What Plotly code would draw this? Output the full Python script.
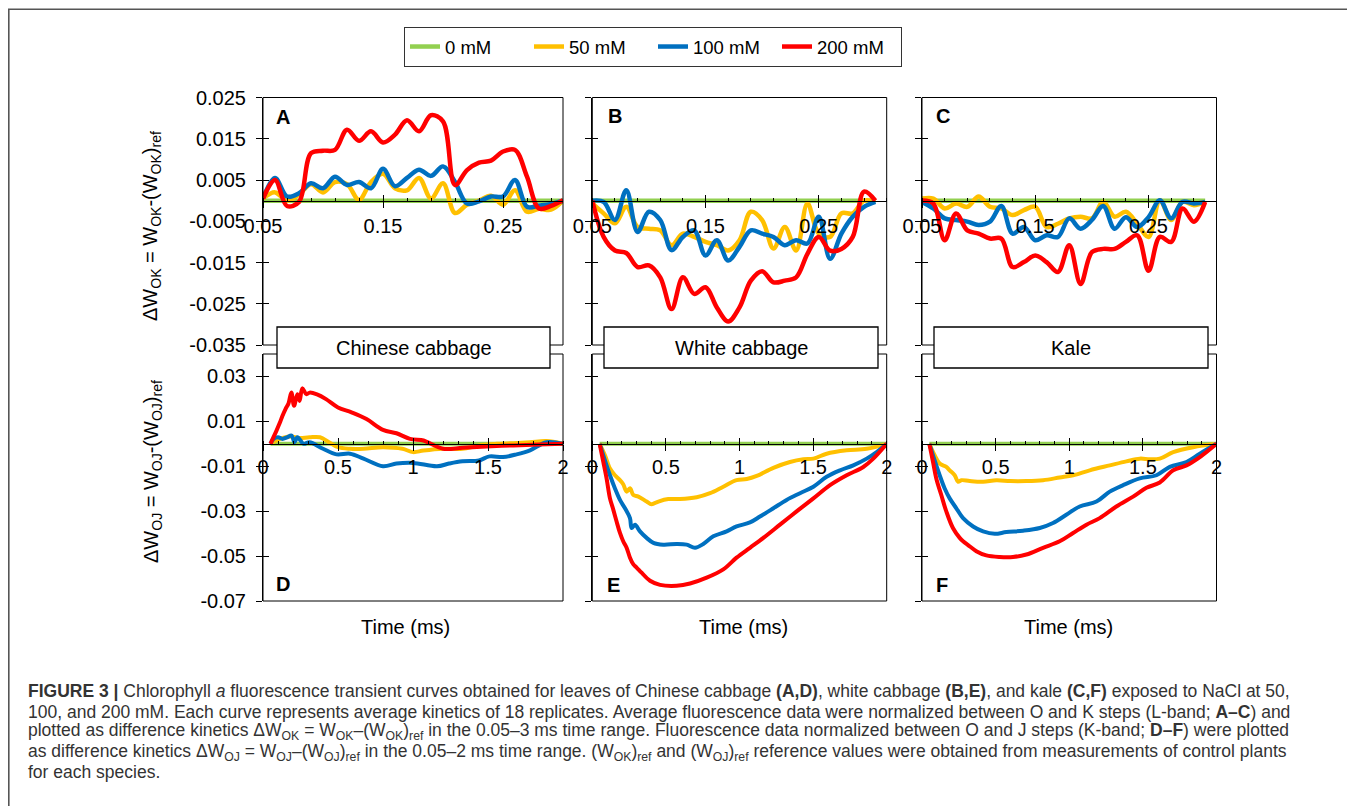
import plotly.graph_objects as go

# the page body keeps an 8 px margin, so the figure is drawn 8 px smaller and offset
OX, OY = 8, 8
W, H = 1355 - OX, 806 - OY

# ---------------- data ----------------
CONC = ["0 mM", "50 mM", "100 mM", "200 mM"]
COLORS = ["#92D050", "#FFC000", "#0070C0", "#FF0000"]

# L-band time grid (ms)
T_L = [0.05, 0.06, 0.07, 0.08, 0.09, 0.10, 0.11, 0.12, 0.13, 0.14, 0.15, 0.16, 0.17,
       0.18, 0.19, 0.20, 0.21, 0.22, 0.23, 0.24, 0.25, 0.26, 0.27, 0.28, 0.29, 0.30]
T_L0 = [0.05, 0.30]
Z_L0 = [0.0, 0.0]

# Panel A - Chinese cabbage, dW_OK
A_50 = [0.0005, 0.002, 0.0, 0.0015, 0.004, 0.002, 0.0045, 0.004, 0.0002, 0.0045, 0.0065, 0.003, 0.0025,
        0.0055, 0.0005, 0.0042, -0.003, -0.001, 0.0, 0.0012, -0.001, 0.0025, -0.0027, -0.002, -0.0022, 0.0]
A_100 = [0.0005, 0.0055, 0.001, 0.0018, 0.0042, 0.003, 0.0058, 0.0038, 0.0045, 0.003, 0.0077, 0.0035, 0.0055,
         0.0075, 0.006, 0.0083, 0.0045, -0.0007, -0.0002, 0.001, 0.001, 0.005, -0.0015, -0.0012, -0.0008, 0.0]
A_200 = [0.0005, 0.005, -0.0013, -0.0003, 0.0115, 0.0121, 0.0123, 0.0172, 0.0145, 0.0168, 0.0141, 0.016, 0.0195,
         0.0168, 0.0207, 0.0192, 0.0038, 0.0074, 0.0092, 0.0097, 0.0119, 0.0123, 0.0058, -0.0019, -0.0013, 0.0001]

# Panel B - White cabbage, dW_OK
B_50 = [-0.0007, -0.0031, -0.0055, -0.0015, -0.0064, -0.0068, -0.0072, -0.0108, -0.008, -0.0088, -0.01, -0.0108, -0.0121,
        -0.0096, -0.0027, -0.0047, -0.0116, -0.0064, -0.0121, -0.0007, -0.008, -0.0088, -0.0031, -0.0031, 0.0, -0.0003]
B_100 = [0.0, -0.0003, -0.0047, 0.0025, -0.0076, -0.0027, -0.0047, -0.012, -0.0088, -0.0072, -0.0133, -0.0096, -0.0145,
         -0.0112, -0.0072, -0.008, -0.0088, -0.0108, -0.0096, -0.0104, -0.0039, -0.0141, -0.008, -0.0039, -0.0015, -0.0003]
B_200 = [0.0, -0.0088, -0.0121, -0.0127, -0.0161, -0.0157, -0.0186, -0.0263, -0.0186, -0.0226, -0.021, -0.0259, -0.0293,
         -0.0259, -0.0194, -0.0171, -0.0198, -0.0194, -0.0186, -0.0129, -0.0088, -0.0121, -0.0117, -0.0088, 0.0022, 0.0]

# Panel C - Kale, dW_OK
C_50 = [0.0005, 0.0005, -0.0019, -0.0007, -0.0015, 0.001, -0.0015, -0.0019, -0.0035, -0.0023, -0.0015, -0.0064, -0.0056,
        -0.0043, -0.0039, -0.0043, -0.0003, -0.0039, -0.0027, -0.0056, -0.0088, 0.0001, -0.0047, -0.0003, -0.0011, -0.0003]
C_100 = [-0.0003, -0.0019, -0.0043, -0.0047, -0.0051, -0.0059, -0.0051, -0.0013, -0.008, -0.0064, -0.0096, -0.0084, -0.0088,
         -0.0043, -0.0068, -0.0047, -0.0013, -0.0068, -0.004, -0.0064, -0.004, 0.0001, -0.0043, -0.0003, -0.0007, -0.0003]
C_200 = [0.0, -0.0007, -0.0096, -0.0031, -0.0072, -0.008, -0.0092, -0.0092, -0.0161, -0.0149, -0.0133, -0.0149, -0.0173,
         -0.0108, -0.0202, -0.0125, -0.0117, -0.0117, -0.01, -0.0084, -0.017, -0.0088, -0.01, -0.0019, -0.0051, -0.0003]

# K-band (dW_OJ), 0.05-2 ms
T_K0 = [0.05, 2.0]
Z_K0 = [0.0, 0.0]

# Panel D - Chinese cabbage
D_50_T = [0.05, 0.09, 0.13, 0.2, 0.24, 0.31, 0.38, 0.44, 0.5, 0.58, 0.67, 0.8, 0.93, 1.0, 1.07, 1.2,
          1.33, 1.44, 1.56, 1.67, 1.78, 1.89, 2.0]
D_50 = [0.0, 0.0015, 0.0026, 0.0032, 0.0026, 0.0029, 0.0029, 0.0007, -0.0015, -0.0022, -0.0022, -0.0015,
        -0.0022, -0.0037, -0.003, -0.0022, -0.0022, -0.0007, 0.0, 0.0003, 0.0007, 0.0012, 0.0]
D_100_T = [0.05, 0.07, 0.1, 0.13, 0.16, 0.19, 0.21, 0.23, 0.27, 0.31, 0.4, 0.49, 0.58, 0.67, 0.8, 0.89,
           1.0, 1.16, 1.24, 1.33, 1.44, 1.51, 1.6, 1.69, 1.78, 1.89, 2.0]
D_100 = [0.0, 0.0022, 0.0029, 0.0022, 0.0029, 0.0037, 0.0007, 0.0029, 0.0, 0.0007, -0.0022, -0.0047, -0.0044,
         -0.0066, -0.01, -0.0088, -0.0085, -0.01, -0.0088, -0.0078, -0.0074, -0.0056, -0.0059, -0.0047,
         -0.0029, 0.0007, 0.0]
D_200_T = [0.05, 0.07, 0.09, 0.11, 0.13, 0.15, 0.17, 0.189, 0.207, 0.229, 0.244, 0.262, 0.289, 0.311, 0.36,
           0.42, 0.5, 0.59, 0.69, 0.8, 0.89, 0.98, 1.07, 1.11, 1.2, 1.33, 1.49, 1.67, 1.84, 2.0]
D_200 = [0.0, 0.003, 0.0059, 0.009, 0.0125, 0.0155, 0.018, 0.0228, 0.0169, 0.0221, 0.0191, 0.0247, 0.0221,
         0.0228, 0.022, 0.0199, 0.0162, 0.014, 0.011, 0.0062, 0.0047, 0.0022, 0.0015, 0.0003, -0.0022,
         -0.0018, -0.0012, -0.0007, -0.0003, 0.0]

# Panel E - White cabbage
E_50_T = [0.05, 0.086, 0.12, 0.154, 0.188, 0.21, 0.233, 0.256, 0.279, 0.313, 0.369, 0.403, 0.449, 0.516,
          0.596, 0.709, 0.8, 0.89, 0.98, 1.049, 1.117, 1.23, 1.343, 1.434, 1.502, 1.592, 1.728, 1.864, 2.0]
E_50 = [0.0, -0.0051, -0.011, -0.014, -0.0162, -0.018, -0.0213, -0.0198, -0.0228, -0.0235, -0.0257, -0.0269,
        -0.0257, -0.0246, -0.0246, -0.0238, -0.022, -0.0191, -0.0162, -0.0157, -0.0143, -0.0107, -0.0081,
        -0.0069, -0.0066, -0.0044, -0.0029, -0.0022, 0.0]
E_100_T = [0.05, 0.086, 0.12, 0.154, 0.188, 0.222, 0.256, 0.267, 0.29, 0.324, 0.369, 0.415, 0.482, 0.573,
           0.641, 0.698, 0.754, 0.822, 0.913, 0.98, 1.071, 1.139, 1.23, 1.32, 1.411, 1.502, 1.592, 1.683,
           1.773, 1.864, 1.932, 2.0]
E_100 = [0.0, -0.0074, -0.014, -0.0199, -0.025, -0.0287, -0.0331, -0.0375, -0.036, -0.039, -0.0419, -0.0441,
         -0.0449, -0.0446, -0.0449, -0.0463, -0.0446, -0.0412, -0.039, -0.0368, -0.035, -0.0324, -0.0287,
         -0.025, -0.022, -0.0191, -0.0147, -0.0118, -0.0096, -0.0066, -0.0037, 0.0]
E_200_T = [0.05, 0.075, 0.097, 0.12, 0.143, 0.165, 0.188, 0.21, 0.233, 0.256, 0.279, 0.301, 0.335, 0.392,
           0.46, 0.573, 0.664, 0.777, 0.89, 0.98, 1.071, 1.162, 1.275, 1.388, 1.502, 1.615, 1.728, 1.841,
           1.909, 2.0]
E_200 = [0.0, -0.0081, -0.0154, -0.0243, -0.0294, -0.0346, -0.0397, -0.0434, -0.0463, -0.0507, -0.0537,
         -0.0551, -0.0574, -0.061, -0.0628, -0.0632, -0.0622, -0.0596, -0.0559, -0.0507, -0.0463, -0.0419,
         -0.036, -0.0301, -0.0243, -0.0184, -0.014, -0.0103, -0.0066, 0.0]

# Panel F - Kale
F_50_T = [0.05, 0.086, 0.12, 0.165, 0.188, 0.222, 0.245, 0.267, 0.324, 0.415, 0.505, 0.6, 0.709, 0.822,
          0.935, 1.026, 1.139, 1.275, 1.388, 1.479, 1.547, 1.615, 1.706, 1.841, 2.0]
F_50 = [0.0, -0.0051, -0.0088, -0.0103, -0.0118, -0.014, -0.0169, -0.0162, -0.0166, -0.0169, -0.0162,
        -0.0166, -0.0166, -0.0162, -0.015, -0.014, -0.0118, -0.0096, -0.0078, -0.0066, -0.0069, -0.0066,
        -0.0037, -0.0015, 0.0]
F_100_T = [0.05, 0.086, 0.12, 0.154, 0.188, 0.233, 0.279, 0.347, 0.415, 0.494, 0.573, 0.686, 0.8, 0.89,
           0.98, 1.071, 1.185, 1.275, 1.366, 1.479, 1.592, 1.683, 1.796, 1.887, 2.0]
F_100 = [0.0, -0.0074, -0.014, -0.0199, -0.0243, -0.0287, -0.0331, -0.0368, -0.039, -0.0401, -0.0393,
         -0.0387, -0.0375, -0.0353, -0.0316, -0.0279, -0.0257, -0.0213, -0.0184, -0.0154, -0.014, -0.0103,
         -0.0081, -0.0044, 0.0]
F_200_T = [0.05, 0.075, 0.097, 0.131, 0.165, 0.21, 0.256, 0.279, 0.313, 0.369, 0.437, 0.528, 0.618, 0.709,
           0.822, 0.935, 1.026, 1.117, 1.207, 1.32, 1.434, 1.524, 1.615, 1.706, 1.796, 1.887, 2.0]
F_200 = [0.0, -0.0081, -0.0154, -0.0228, -0.0301, -0.0375, -0.0419, -0.0434, -0.0451, -0.0478, -0.0497,
         -0.0504, -0.0504, -0.0493, -0.0463, -0.0434, -0.0397, -0.036, -0.0331, -0.0279, -0.0235, -0.0196,
         -0.0172, -0.0118, -0.0096, -0.0059, 0.0]

# tick labels
YT_TOP = [-0.035, -0.025, -0.015, -0.005, 0.005, 0.015, 0.025]
YT_TOP_TXT = ["-0.035", "-0.025", "-0.015", "-0.005", "0.005", "0.015", "0.025"]
YT_BOT = [-0.07, -0.05, -0.03, -0.01, 0.01, 0.03]
YT_BOT_TXT = ["-0.07", "-0.05", "-0.03", "-0.01", "0.01", "0.03"]
XT_TOP = [0.05, 0.15, 0.25]
XT_TOP_TXT = ["0.05", "0.15", "0.25"]
XT_BOT = [0, 0.5, 1, 1.5, 2]
XT_BOT_TXT = ["0", "0.5", "1", "1.5", "2"]

SPECIES = ["Chinese cabbage", "White cabbage", "Kale"]
LETTERS = ["A", "B", "C", "D", "E", "F"]

# ---------------- layout helpers (page pixels -> paper fractions) ----------------
def fx(p):
    return (p - OX) / W

def fy(p):
    return 1 - (p - OY) / H

def sfx(n):
    return "" if n == 1 else str(n)

FONT = "Liberation Sans, Arial, sans-serif"

# panel pixel boxes: left, right, top, bottom
PANELS = [
    (263, 563, 97.5, 345),
    (592.3, 886.7, 97.5, 345),
    (922, 1216.5, 97.5, 345),
    (263, 563, 354, 601),
    (592.3, 886.7, 354, 601),
    (922, 1216.5, 354, 601),
]
XR = [[0.05, 0.30], [0.05, 0.31], [0.05, 0.31], [0, 2], [0, 2], [0, 2]]
YR_TOP = [-0.035, 0.025]
YR_BOT = [-0.07, 0.04]

panel_series = [
    [(T_L0, Z_L0), (T_L, A_50), (T_L, A_100), (T_L, A_200)],
    [(T_L0, Z_L0), (T_L, B_50), (T_L, B_100), (T_L, B_200)],
    [(T_L0, Z_L0), (T_L, C_50), (T_L, C_100), (T_L, C_200)],
    [(T_K0, Z_K0), (D_50_T, D_50), (D_100_T, D_100), (D_200_T, D_200)],
    [(T_K0, Z_K0), (E_50_T, E_50), (E_100_T, E_100), (E_200_T, E_200)],
    [(T_K0, Z_K0), (F_50_T, F_50), (F_100_T, F_100), (F_200_T, F_200)],
]

fig = go.Figure()
layout = {}
shapes = []
annotations = []

for i in range(6):
    n = sfx(i + 1)
    m = sfx(i + 7)
    L, R, T, B = PANELS[i]
    top = i < 3
    yr = YR_TOP if top else YR_BOT
    xr = XR[i]
    xd = [fx(L), fx(R)]
    yd = [fy(B), fy(T)]
    zpos = yd[0] + (0 - yr[0]) / (yr[1] - yr[0]) * (yd[1] - yd[0])
    xt, xtt = (XT_TOP, XT_TOP_TXT) if top else (XT_BOT, XT_BOT_TXT)
    yt, ytt = (YT_TOP, YT_TOP_TXT) if top else (YT_BOT, YT_BOT_TXT)
    minor = dict(ticks="inside", ticklen=3, tickwidth=1, tickcolor="black",
                 dtick=0.02 if top else 0.1, tick0=0.05 if top else 0, showgrid=False)

    layout[f"xaxis{n}"] = dict(domain=xd, range=xr, anchor="free", position=zpos,
                               showline=True, linecolor="black", linewidth=1,
                               ticks="outside", ticklen=6, tickwidth=1, tickcolor="black",
                               tickmode="array", tickvals=xt, ticktext=xtt,
                               tickfont=dict(family=FONT, size=20, color="black"),
                               ticklabelstandoff=1 if top else -1, automargin=False,
                               minor=minor, showgrid=False, zeroline=False)
    layout[f"yaxis{n}"] = dict(domain=yd, range=yr, anchor=f"x{n}",
                               showline=True, linecolor="black", linewidth=1,
                               ticks="outside", ticklen=6, tickwidth=1, tickcolor="black",
                               tickmode="array", tickvals=yt, ticktext=ytt,
                               showticklabels=(i % 3 == 0), automargin=False,
                               tickfont=dict(family=FONT, size=20, color="black"),
                               ticklabelstandoff=6,
                               showgrid=False, zeroline=False)
    # overlay axes giving the inner half of the crossing ticks
    layout[f"xaxis{m}"] = dict(overlaying=f"x{n}", range=xr, anchor="free", position=zpos,
                               showline=False, ticks="inside", ticklen=6, tickwidth=1,
                               tickcolor="black", tickmode="array", tickvals=xt, automargin=False,
                               showticklabels=False, showgrid=False, zeroline=False)
    layout[f"yaxis{m}"] = dict(overlaying=f"y{n}", range=yr, anchor=f"x{n}", side="left",
                               showline=False, ticks="inside", ticklen=6, tickwidth=1,
                               tickcolor="black", tickmode="array", tickvals=yt, automargin=False,
                               showticklabels=False, showgrid=False, zeroline=False)
    fig.add_trace(go.Scatter(x=[None], y=[None], xaxis=f"x{m}", yaxis=f"y{m}",
                             showlegend=False, hoverinfo="skip"))

    lw = 4.5 if top else 4
    for k, (xs, ys) in enumerate(panel_series[i]):
        fig.add_trace(go.Scatter(x=xs, y=ys, mode="lines", name=CONC[k],
                                 line=dict(color=COLORS[k], width=lw, shape="spline", smoothing=1),
                                 xaxis=f"x{n}", yaxis=f"y{n}",
                                 legendgroup=CONC[k], showlegend=(i == 0)))

    shapes.append(dict(type="rect", xref=f"x{n} domain", yref=f"y{n} domain",
                       x0=0, x1=1, y0=0, y1=1, line=dict(color="black", width=1), layer="above"))

# species boxes
BOXES = [(277, 550), (604, 878), (934, 1208)]
for j, (bl, br) in enumerate(BOXES):
    shapes.append(dict(type="rect", xref="paper", yref="paper", x0=fx(bl), x1=fx(br),
                       y0=fy(368), y1=fy(327), fillcolor="white",
                       line=dict(color="black", width=1.3), layer="above"))
    annotations.append(dict(xref="paper", yref="paper", x=fx((bl + br) / 2), y=fy(348),
                            text=SPECIES[j], showarrow=False, xanchor="center", yanchor="middle",
                            font=dict(family=FONT, size=20, color="black")))

# outer frame (left and top edges visible)
shapes.append(dict(type="rect", xref="paper", yref="paper", x0=fx(8.8), x1=fx(1370),
                   y0=fy(830), y1=fy(9.3), line=dict(color="#555555", width=1.6), layer="above"))

# panel letters
LETTER_POS = [(282.5, 117), (615, 116), (942.5, 116), (283, 584), (613, 585), (941.5, 585)]
for j, (lx, ly) in enumerate(LETTER_POS):
    annotations.append(dict(xref="paper", yref="paper", x=fx(lx), y=fy(ly), text=f"<b>{LETTERS[j]}</b>",
                            showarrow=False, xanchor="center", yanchor="middle",
                            font=dict(family=FONT, size=20, color="black")))

# axis titles
annotations.append(dict(xref="paper", yref="paper", x=fx(152), y=fy(226), textangle=-90,
                        text="ΔW<sub>OK</sub> = W<sub>OK</sub>-(W<sub>OK</sub>)<sub>ref</sub>",
                        showarrow=False, xanchor="center", yanchor="middle",
                        font=dict(family=FONT, size=20, color="black")))
annotations.append(dict(xref="paper", yref="paper", x=fx(152), y=fy(472), textangle=-90,
                        text="ΔW<sub>OJ</sub> = W<sub>OJ</sub>-(W<sub>OJ</sub>)<sub>ref</sub>",
                        showarrow=False, xanchor="center", yanchor="middle",
                        font=dict(family=FONT, size=20, color="black")))
for tx in (405, 743, 1068):
    annotations.append(dict(xref="paper", yref="paper", x=fx(tx), y=fy(627), text="Time (ms)",
                            showarrow=False, xanchor="center", yanchor="middle",
                            font=dict(family=FONT, size=20, color="black")))

# caption
CAPTION = [
    "<b>FIGURE 3 |</b> Chlorophyll <i>a</i> fluorescence transient curves obtained for leaves of Chinese cabbage "
    "<b>(A,D)</b>, white cabbage <b>(B,E)</b>, and kale <b>(C,F)</b> exposed to NaCl at 50,",
    "100, and 200 mM. Each curve represents average kinetics of 18 replicates. Average fluorescence data were "
    "normalized between O and K steps (L-band; <b>A–C</b>) and",
    "plotted as difference kinetics ΔW<sub>OK</sub> = W<sub>OK</sub>–(W<sub>OK</sub>)<sub>ref</sub> in the "
    "0.05–3 ms time range. Fluorescence data normalized between O and J steps (K-band; <b>D–F</b>) were plotted",
    "as difference kinetics ΔW<sub>OJ</sub> = W<sub>OJ</sub>–(W<sub>OJ</sub>)<sub>ref</sub> in the 0.05–2 ms "
    "time range. (W<sub>OK</sub>)<sub>ref</sub> and (W<sub>OJ</sub>)<sub>ref</sub> reference values were "
    "obtained from measurements of control plants",
    "for each species.",
]
CAP_Y = [691, 711.5, 731.5, 752, 772]
for line, cy in zip(CAPTION, CAP_Y):
    annotations.append(dict(xref="paper", yref="paper", x=fx(26), y=fy(cy), text=line,
                            showarrow=False, xanchor="left", yanchor="middle", align="left",
                            font=dict(family=FONT, size=17.5, color="#333333")))

fig.update_layout(
    width=W, height=H,
    margin=dict(l=0, r=0, t=0, b=0, pad=0, autoexpand=False),
    paper_bgcolor="white", plot_bgcolor="white",
    font=dict(family=FONT, size=20, color="black"),
    showlegend=True,
    legend=dict(orientation="h", x=fx(404), y=fy(27), xanchor="left", yanchor="top",
                bordercolor="#333333", borderwidth=1, bgcolor="white",
                font=dict(family=FONT, size=18.5, color="black"),
                entrywidth=79, entrywidthmode="pixels", itemwidth=30,
                traceorder="normal"),
    shapes=shapes,
    annotations=annotations,
    **layout,
)

fig.write_html("out.html")
